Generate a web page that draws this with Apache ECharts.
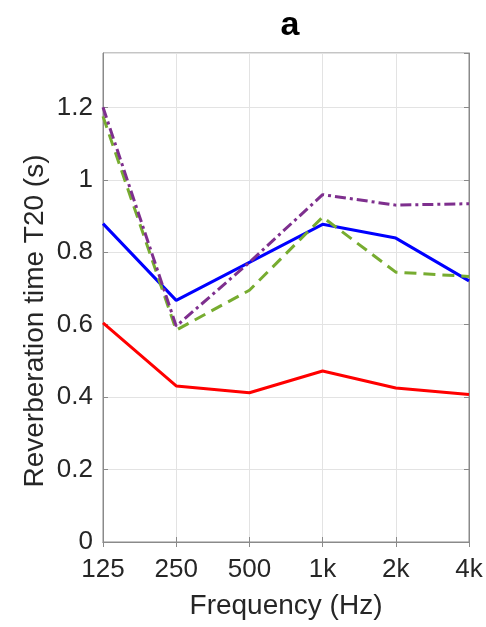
<!DOCTYPE html>
<html>
<head>
<meta charset="utf-8">
<script src="https://cdn.jsdelivr.net/npm/echarts@6/dist/echarts.min.js"></script>
<style>
  html, body { margin: 0; padding: 0; background: #fff; }
  #chart { width: 486px; height: 627px; }
</style>
</head>
<body>
<div id="chart"></div>
<script>
// Octave-band centre frequencies
const bands = ['125', '250', '500', '1k', '2k', '4k'];

// Reverberation time T20 (s) per band
const redSeries    = [0.605, 0.431, 0.412, 0.472, 0.425, 0.407];
const blueSeries   = [0.879, 0.667, 0.772, 0.877, 0.839, 0.721];
const greenSeries  = [1.175, 0.585, 0.695, 0.897, 0.745, 0.733];
const purpleSeries = [1.200, 0.596, 0.772, 0.959, 0.930, 0.934];

const FONT = '"Liberation Sans", Arial, Helvetica, sans-serif';
const TEXT = '#262626';
const AXIS = '#8a8a8a';
const GRID = '#e3e3e3';

const chart = echarts.init(document.getElementById('chart'), null, { renderer: 'canvas' });

function line(data, color, type, z) {
  return {
    type: 'line',
    data: data,
    symbol: 'none',
    xAxisIndex: 0,
    yAxisIndex: 0,
    z: z,
    lineStyle: { color: color, width: 3, type: type, cap: 'butt' },
    emphasis: { disabled: true },
    animation: false
  };
}

chart.setOption({
  animation: false,
  backgroundColor: '#fff',
  title: {
    text: 'a',
    left: 285,
    top: 4,
    textAlign: 'center',
    textStyle: { fontFamily: FONT, fontWeight: 'bold', fontSize: 34, color: '#000' }
  },
  grid: {
    left: 103, right: 17, top: 53, bottom: 85,
    show: true, borderColor: AXIS, borderWidth: 1, backgroundColor: '#fff'
  },
  xAxis: [{
    type: 'category',
    data: bands,
    boundaryGap: false,
    position: 'bottom',
    name: 'Frequency (Hz)',
    nameLocation: 'middle',
    nameGap: 50,
    nameTextStyle: { fontFamily: FONT, fontSize: 28, color: TEXT },
    axisLine: { show: true, lineStyle: { color: AXIS, width: 1 } },
    axisTick: { show: true, inside: true, length: 5, alignWithLabel: true, lineStyle: { color: AXIS } },
    axisLabel: { fontFamily: FONT, fontSize: 26, color: TEXT, margin: 15, showMaxLabel: true, showMinLabel: true },
    splitLine: { show: true, lineStyle: { color: GRID, width: 1 } }
  }, {
    type: 'category',
    data: bands,
    boundaryGap: false,
    position: 'top',
    axisLine: { show: true, lineStyle: { color: AXIS, width: 1 } },
    axisTick: { show: true, inside: true, length: 5, lineStyle: { color: AXIS } },
    axisLabel: { show: false },
    splitLine: { show: false }
  }],
  yAxis: [{
    type: 'value',
    min: 0,
    max: 1.35,
    interval: 0.2,
    position: 'left',
    axisLine: { show: true, lineStyle: { color: AXIS, width: 1 } },
    axisTick: { show: true, inside: true, length: 5, lineStyle: { color: AXIS } },
    axisLabel: {
      fontFamily: FONT, fontSize: 26, color: TEXT, margin: 10, showMaxLabel: false,
      formatter: v => String(Math.round(v * 10) / 10)
    },
    splitLine: { show: true, lineStyle: { color: GRID, width: 1 } }
  }, {
    type: 'value',
    min: 0,
    max: 1.35,
    interval: 0.2,
    position: 'right',
    axisLine: { show: true, lineStyle: { color: AXIS, width: 1 } },
    axisTick: { show: true, inside: true, length: 5, lineStyle: { color: AXIS } },
    axisLabel: { show: false },
    splitLine: { show: false }
  }],
  graphic: [{
    type: 'text',
    x: 35,
    y: 321,
    rotation: Math.PI / 2,
    style: {
      text: 'Reverberation time T20 (s)',
      fontFamily: FONT,
      fontSize: 28,
      fill: TEXT,
      align: 'center',
      verticalAlign: 'middle'
    }
  }],
  series: [
    line(redSeries, '#ff0000', 'solid', 2),
    line(blueSeries, '#0000ff', 'solid', 3),
    line(greenSeries, '#77ac30', [12, 7], 4),
    line(purpleSeries, '#7e2f8e', [11, 4, 3, 4], 5)
  ]
});
</script>
</body>
</html>
